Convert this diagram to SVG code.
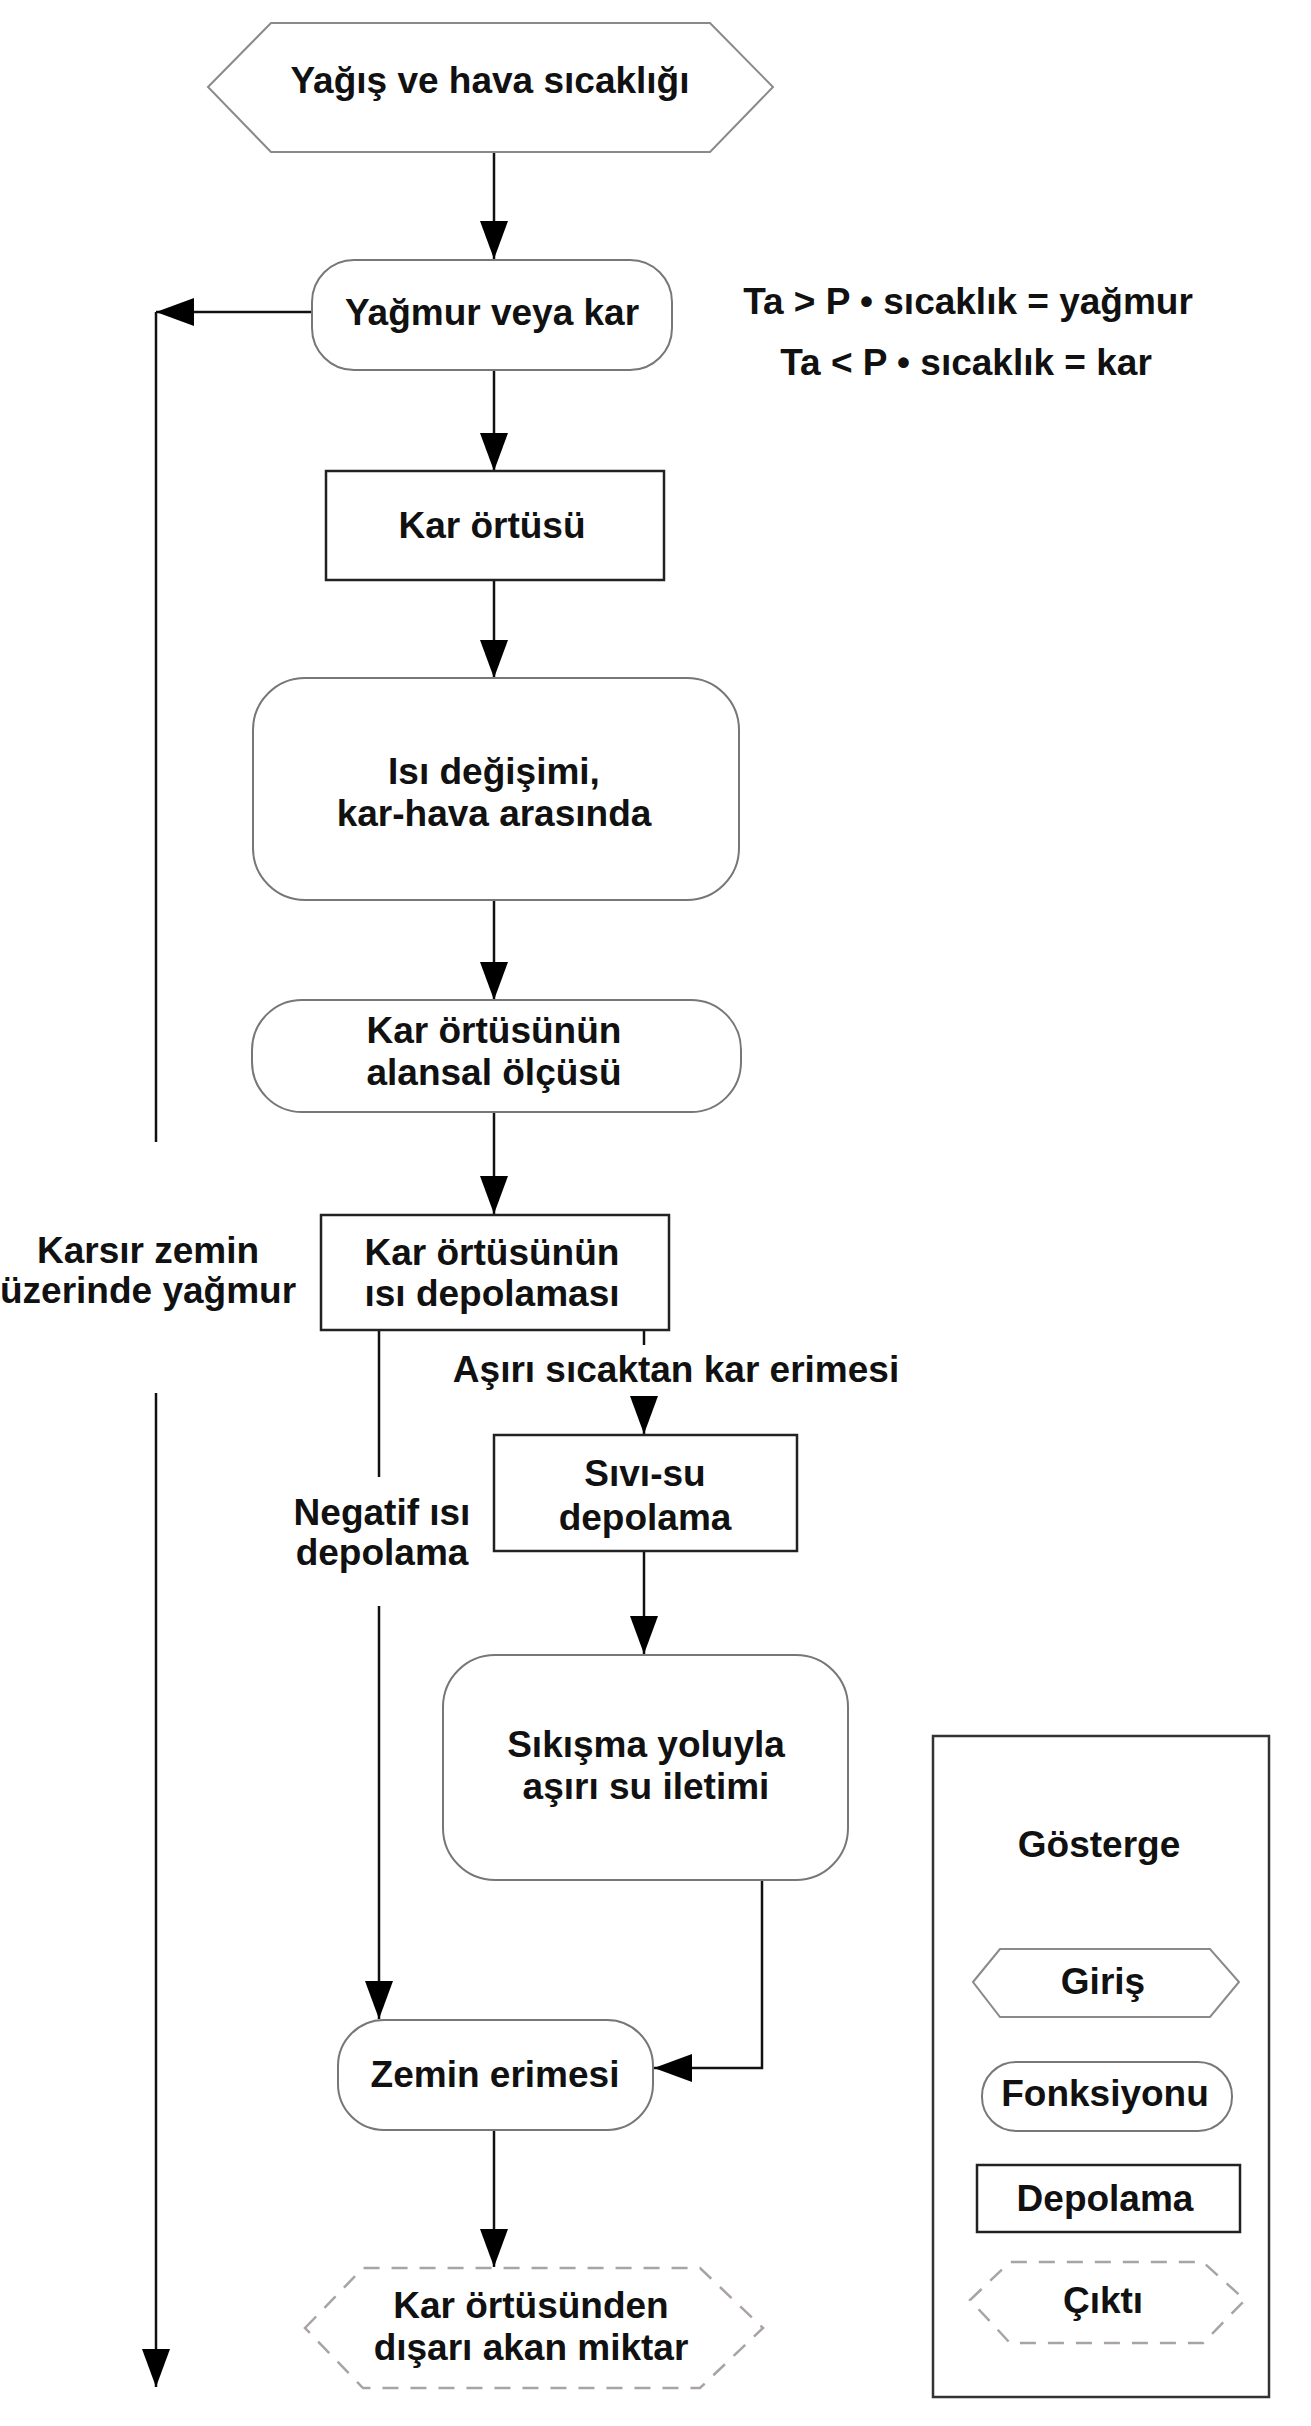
<svg xmlns="http://www.w3.org/2000/svg" width="1311" height="2426" viewBox="0 0 1311 2426">
<defs>
<marker id="ah" markerUnits="userSpaceOnUse" markerWidth="40" markerHeight="30" refX="38" refY="14" orient="auto">
<path d="M0,0 L38,14 L0,28 Z" fill="#000"/>
</marker>
<style>
text{font-family:"Liberation Sans",Arial,sans-serif;font-weight:bold;font-size:37px;fill:#111;text-anchor:middle}
.inp{fill:#fff;stroke:#8a8a8a;stroke-width:2}
.fn{fill:#fff;stroke:#777;stroke-width:2}
.st{fill:#fff;stroke:#222;stroke-width:2.5}
.out{fill:#fff;stroke:#a9a3a3;stroke-width:2.5;stroke-dasharray:16 12}
.con{fill:none;stroke:#111;stroke-width:2.5}
.arr{fill:none;stroke:#111;stroke-width:2.5;marker-end:url(#ah)}
</style>
</defs>
<rect width="1311" height="2426" fill="#fff"/>

<g id="connectors">
<line class="arr" x1="494" y1="152" x2="494" y2="259"/>
<path class="arr" d="M312,312 L156,312"/>
<line class="con" x1="156" y1="312" x2="156" y2="1142"/>
<line class="arr" x1="156" y1="1393" x2="156" y2="2387"/>
<line class="arr" x1="494" y1="370" x2="494" y2="471"/>
<line class="arr" x1="494" y1="580" x2="494" y2="678"/>
<line class="arr" x1="494" y1="900" x2="494" y2="1000"/>
<line class="arr" x1="494" y1="1112" x2="494" y2="1214"/>
<line class="con" x1="379" y1="1330" x2="379" y2="1477"/>
<line class="arr" x1="379" y1="1606" x2="379" y2="2019"/>
<line class="con" x1="644" y1="1330" x2="644" y2="1345"/>
<line class="arr" x1="644" y1="1400" x2="644" y2="1434"/>
<line class="arr" x1="644" y1="1551" x2="644" y2="1654"/>
<path class="arr" d="M762,1880 L762,2068 L654,2068"/>
<line class="arr" x1="494" y1="2130" x2="494" y2="2267"/>
</g>

<g id="input">
<polygon class="inp" points="208,87 271,23 710,23 773,87 710,152 271,152"/>
<text x="490" y="93">Yağış ve hava sıcaklığı</text>
</g>

<g id="yagmur-veya-kar">
<rect class="fn" x="312" y="260" width="360" height="110" rx="42"/>
<text x="492" y="325">Yağmur veya kar</text>
</g>

<g id="kosul">
<text x="968" y="314">Ta &gt; P • sıcaklık = yağmur</text>
<text x="966" y="375">Ta &lt; P • sıcaklık = kar</text>
</g>

<g id="kar-ortusu">
<rect class="st" x="326" y="471" width="338" height="109"/>
<text x="492" y="538">Kar örtüsü</text>
</g>

<g id="isi-degisimi">
<rect class="fn" x="253" y="678" width="486" height="222" rx="52"/>
<text x="494" y="784">Isı değişimi,</text>
<text x="494" y="826">kar-hava arasında</text>
</g>

<g id="alansal-olcu">
<rect class="fn" x="252" y="1000" width="489" height="112" rx="50"/>
<text x="494" y="1043">Kar örtüsünün</text>
<text x="494" y="1085">alansal ölçüsü</text>
</g>

<g id="isi-depolamasi">
<rect class="st" x="321" y="1215" width="348" height="115"/>
<text x="492" y="1265">Kar örtüsünün</text>
<text x="492" y="1306">ısı depolaması</text>
</g>

<g id="label-karsir">
<text x="148" y="1263">Karsır zemin</text>
<text x="148" y="1303">üzerinde yağmur</text>
</g>

<g id="label-negatif">
<text x="382" y="1525">Negatif ısı</text>
<text x="382" y="1565">depolama</text>
</g>

<g id="label-asiri">
<text x="676" y="1382">Aşırı sıcaktan kar erimesi</text>
</g>

<g id="sivi-su">
<rect class="st" x="494" y="1435" width="303" height="116"/>
<text x="645" y="1486">Sıvı-su</text>
<text x="645" y="1530">depolama</text>
</g>

<g id="sikisma">
<rect class="fn" x="443" y="1655" width="405" height="225" rx="52"/>
<text x="646" y="1757">Sıkışma yoluyla</text>
<text x="646" y="1799">aşırı su iletimi</text>
</g>

<g id="zemin-erimesi">
<rect class="fn" x="338" y="2020" width="315" height="110" rx="46"/>
<text x="495" y="2087">Zemin erimesi</text>
</g>

<g id="output">
<polygon class="out" points="305,2328 363,2268 700,2268 763,2328 700,2388 363,2388"/>
<text x="531" y="2318">Kar örtüsünden</text>
<text x="531" y="2360">dışarı akan miktar</text>
</g>

<g id="legend">
<rect x="933" y="1736" width="336" height="661" fill="#fff" stroke="#333" stroke-width="2.5"/>
<text x="1099" y="1857">Gösterge</text>
<polygon class="inp" points="973,1982 1000,1949 1210,1949 1239,1982 1210,2017 1000,2017"/>
<text x="1103" y="1994">Giriş</text>
<rect class="fn" x="982" y="2062" width="250" height="69" rx="34"/>
<text x="1105" y="2106">Fonksiyonu</text>
<rect class="st" x="977" y="2165" width="263" height="67"/>
<text x="1105" y="2211">Depolama</text>
<polygon class="out" points="970,2300 1010,2262 1203,2262 1245,2300 1203,2343 1010,2343"/>
<text x="1103" y="2313">Çıktı</text>
</g>
</svg>
